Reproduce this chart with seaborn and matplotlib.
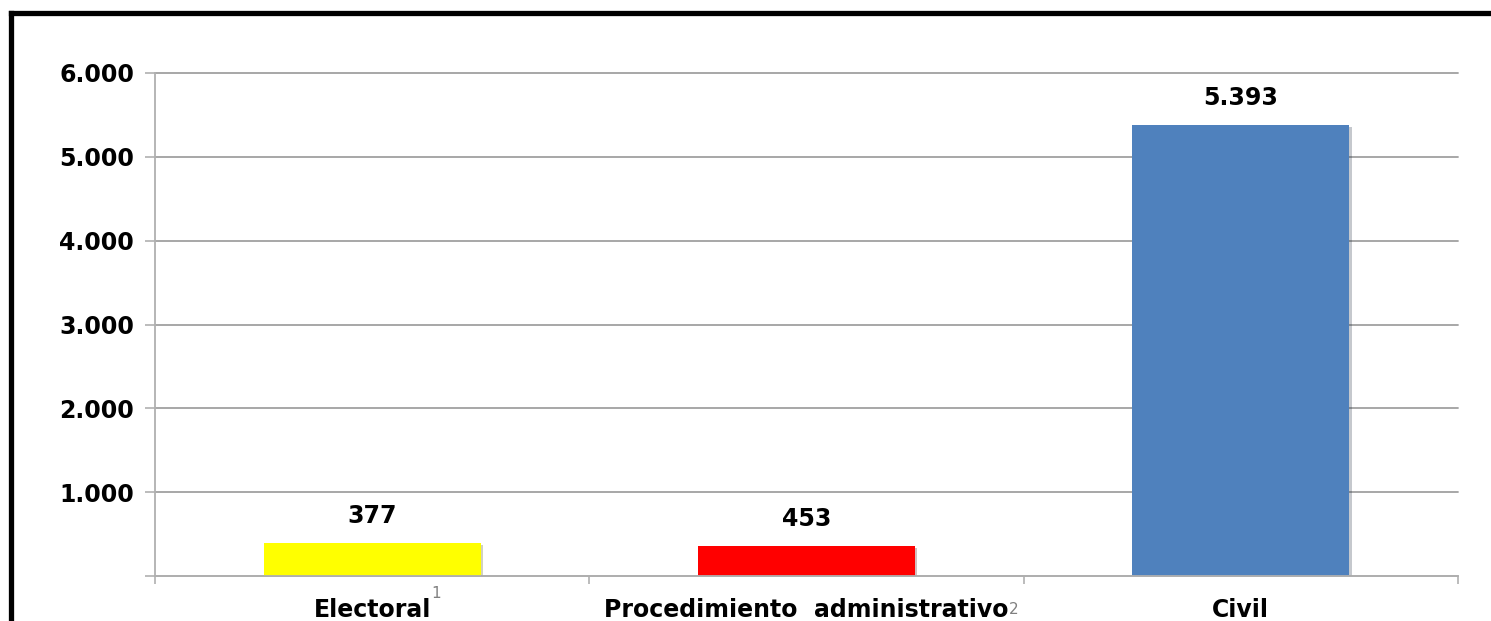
import matplotlib
matplotlib.use("Agg")
import matplotlib.pyplot as plt
import matplotlib.patheffects as pe
from matplotlib.lines import Line2D
import seaborn as sns

# Data
categories = ["Electoral", "Procedimiento  administrativo", "Civil"]
bar_heights = [394, 358, 5380]
value_labels = ["377", "453", "5.393"]
footnotes = ["1", "2", ""]
bar_colors = ["#FFFF00", "#FF0000", "#4F81BD"]
y_ticks = [0, 1000, 2000, 3000, 4000, 5000, 6000]
y_tick_labels = ["", "1.000", "2.000", "3.000", "4.000", "5.000", "6.000"]

sns.set_style("white")
plt.rcParams["font.family"] = ["DejaVu Sans"]
plt.rcParams["text.color"] = "black"
plt.rcParams["xtick.labelcolor"] = "black"
plt.rcParams["ytick.labelcolor"] = "black"

W, H = 1491, 621
fig = plt.figure(figsize=(W / 100, H / 100), dpi=100)
ax = fig.add_axes([155 / W, 45 / H, (1458 - 155) / W, (576 - 73) / H])

sns.barplot(x=categories, y=bar_heights, hue=categories, palette=bar_colors,
            width=0.5, legend=False, ax=ax, saturation=1)
for p in ax.patches:
    p.set_linewidth(0)
    p.set_path_effects([pe.SimplePatchShadow(offset=(1.5, -1.5), alpha=0.25), pe.Normal()])

ax.set_xlim(-0.5, 2.5)
ax.set_ylim(0, 6000)
ax.set_yticks(y_ticks)
ax.set_yticklabels(y_tick_labels, fontsize=17, fontweight="bold", color="black")
ax.yaxis.grid(True, color="#a0a0a0", linewidth=1.3)
for gl in ax.get_ygridlines():
    gl.set_clip_on(False)
ax.set_axisbelow(True)
ax.set_xlabel("")
ax.set_ylabel("")

for s in ["top", "right"]:
    ax.spines[s].set_visible(False)
for s in ["left", "bottom"]:
    ax.spines[s].set_color("#b0b0b0")
    ax.spines[s].set_linewidth(1.3)

ax.tick_params(axis="y", length=7, width=1.2, color="#b0b0b0", pad=8, left=True)
ax.tick_params(axis="x", which="major", length=0, pad=16, labelsize=17)
ax.set_xticks([-0.5, 0.5, 1.5, 2.5], minor=True)
ax.tick_params(axis="x", which="minor", length=6, width=1.2, color="#b0b0b0", bottom=True)
for t in ax.get_xticklabels():
    t.set_fontweight("bold")
    t.set_color("black")

for i, (h, lab) in enumerate(zip(bar_heights, value_labels)):
    ax.annotate(lab, xy=(i, h), xytext=(0, 19.5), textcoords="offset points",
                ha="center", va="center", fontsize=17, fontweight="bold", color="black")

fig.canvas.draw()
ticklabels = ax.get_xticklabels()
for t, fn in zip(ticklabels, footnotes):
    if not fn:
        continue
    yfrac = 1.2 if fn == "1" else 0.55
    ax.annotate(fn, xy=(1, yfrac), xycoords=t, xytext=(0, 0), textcoords="offset points",
                ha="left", va="center", fontsize=11, color="#808080")

# black frame (cut off at right and bottom)
fig.add_artist(Line2D([10.5 / W, 10.5 / W], [0, 1 - 12.5 / H], color="black",
                      linewidth=3.8, transform=fig.transFigure, solid_capstyle="projecting"))
fig.add_artist(Line2D([10.5 / W, 1], [1 - 12.5 / H, 1 - 12.5 / H], color="black",
                      linewidth=3.8, transform=fig.transFigure, solid_capstyle="projecting"))

fig.savefig("out.png", dpi=100)
